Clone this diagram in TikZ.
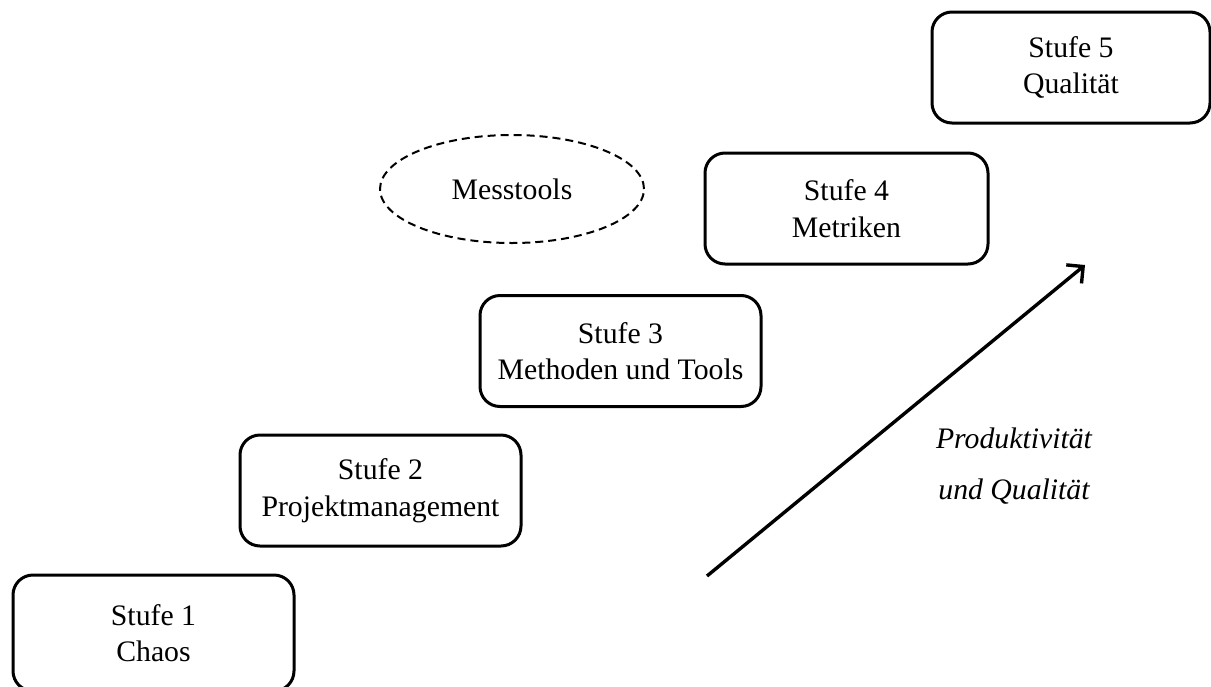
\documentclass[tikz,border=0pt]{standalone}
\usepackage{fontspec}
\setmainfont{Liberation Serif}
\usetikzlibrary{shapes.geometric,arrows.meta}
\begin{document}
\begin{tikzpicture}[x=1pt,y=-1pt,
  every node/.style={font=\fontsize{29.75}{36.5}\selectfont},
  stage/.style={draw, line width=3pt, rounded corners=20pt, inner sep=0pt,
    align=center, minimum width=281pt, minimum height=111pt},
  tool/.style={draw, ellipse, dashed, line width=2pt, dash pattern=on 8pt off 5pt,
    inner sep=0pt, minimum width=264pt, minimum height=108pt},
  note/.style={font=\fontsize{29.75}{37}\selectfont\itshape, inner sep=0pt}]
  \useasboundingbox (0,0) rectangle (1211,686);

  % five maturity stages, rising to the right
  \node[stage, minimum height=116pt] (s1) at (153.5,633) {Stufe 1\\Chaos};
  \node[stage] (s2) at (380.5,490.5) {Stufe 2\\Projektmanagement};
  \node[stage] (s3) at (620.5,351)   {Stufe 3\\Methoden und Tools};
  \node[stage, minimum width=283pt] (s4) at (846.5,208.5) {Stufe 4\\Metriken};
  \node[stage, minimum width=278pt] (s5) at (1071,67.5)  {Stufe 5\\Qualität};

  % measuring tools
  \node[tool] (mt) at (512,189) {Messtools};

  % growth arrow
  \coordinate (a0) at (707,576);
  \coordinate (a1) at (1085,265);
  \draw[line width=3.4pt, -{Straight Barb[length=12pt,width=24pt,line width=3.4pt]}] (a0) -- (a1);

  \node[note] (n1) at (1014,438) {Produktivität};
  \node[note] (n2) at (1014,492) {und Qualität};
\end{tikzpicture}
\end{document}
